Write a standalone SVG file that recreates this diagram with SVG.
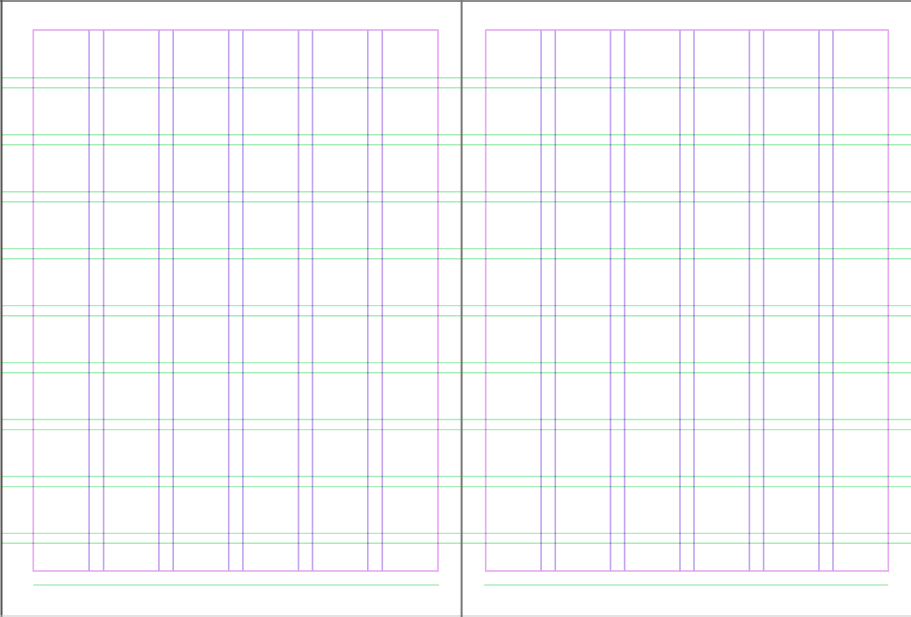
<svg xmlns="http://www.w3.org/2000/svg" width="911" height="617" viewBox="0 0 911 617">
<style>
.margin{fill:none;stroke:#e8a8f2;stroke-width:1.6}
.col{stroke:#c4a2f0;stroke-width:1.6}
.row{stroke:#a6eeb6;stroke-width:1.4;mix-blend-mode:multiply}
.base{stroke:#aeeebc;stroke-width:1.4}
</style>
<rect x="0" y="0" width="911" height="617" fill="#ffffff"/>
<g id="frame">
<line x1="0" y1="1" x2="911" y2="1" stroke="#666" stroke-width="1.6"/>
<line x1="1.5" y1="0" x2="1.5" y2="617" stroke="#555" stroke-width="2"/>
<line x1="0" y1="616" x2="911" y2="616" stroke="#c8c8c8" stroke-width="1.2"/>
</g>
<g id="left-page">
<rect class="margin" x="33.3" y="30" width="404.7" height="541"/>
<line class="col" x1="89.1" y1="30" x2="89.1" y2="571"/>
<line class="col" x1="103.6" y1="30" x2="103.6" y2="571"/>
<line class="col" x1="158.9" y1="30" x2="158.9" y2="571"/>
<line class="col" x1="173.2" y1="30" x2="173.2" y2="571"/>
<line class="col" x1="228.7" y1="30" x2="228.7" y2="571"/>
<line class="col" x1="242.9" y1="30" x2="242.9" y2="571"/>
<line class="col" x1="298.5" y1="30" x2="298.5" y2="571"/>
<line class="col" x1="312.5" y1="30" x2="312.5" y2="571"/>
<line class="col" x1="367.8" y1="30" x2="367.8" y2="571"/>
<line class="col" x1="382.3" y1="30" x2="382.3" y2="571"/>
<line class="base" x1="33.3" y1="585" x2="439" y2="585"/>
</g>
<g id="right-page">
<rect class="margin" x="485.7" y="30" width="402.6" height="541"/>
<line class="col" x1="541.1" y1="30" x2="541.1" y2="571"/>
<line class="col" x1="555.3" y1="30" x2="555.3" y2="571"/>
<line class="col" x1="610.5" y1="30" x2="610.5" y2="571"/>
<line class="col" x1="624.6" y1="30" x2="624.6" y2="571"/>
<line class="col" x1="680" y1="30" x2="680" y2="571"/>
<line class="col" x1="694" y1="30" x2="694" y2="571"/>
<line class="col" x1="749.4" y1="30" x2="749.4" y2="571"/>
<line class="col" x1="763.6" y1="30" x2="763.6" y2="571"/>
<line class="col" x1="819" y1="30" x2="819" y2="571"/>
<line class="col" x1="833" y1="30" x2="833" y2="571"/>
<line class="base" x1="484" y1="585" x2="888.3" y2="585"/>
</g>
<g id="rows">
<line class="row" x1="2" y1="77.8" x2="911" y2="77.8"/>
<line class="row" x1="2" y1="87.8" x2="911" y2="87.8"/>
<line class="row" x1="2" y1="134.7" x2="911" y2="134.7"/>
<line class="row" x1="2" y1="144.8" x2="911" y2="144.8"/>
<line class="row" x1="2" y1="191.7" x2="911" y2="191.7"/>
<line class="row" x1="2" y1="201.8" x2="911" y2="201.8"/>
<line class="row" x1="2" y1="248.6" x2="911" y2="248.6"/>
<line class="row" x1="2" y1="258.7" x2="911" y2="258.7"/>
<line class="row" x1="2" y1="305.6" x2="911" y2="305.6"/>
<line class="row" x1="2" y1="315.7" x2="911" y2="315.7"/>
<line class="row" x1="2" y1="362.6" x2="911" y2="362.6"/>
<line class="row" x1="2" y1="372.7" x2="911" y2="372.7"/>
<line class="row" x1="2" y1="419.5" x2="911" y2="419.5"/>
<line class="row" x1="2" y1="429.6" x2="911" y2="429.6"/>
<line class="row" x1="2" y1="476.5" x2="911" y2="476.5"/>
<line class="row" x1="2" y1="486.6" x2="911" y2="486.6"/>
<line class="row" x1="2" y1="533.4" x2="911" y2="533.4"/>
<line class="row" x1="2" y1="543.2" x2="911" y2="543.2"/>
</g>
<g id="spine">
<line x1="461.6" y1="0" x2="461.6" y2="617" stroke="#777" stroke-width="2"/>
</g>
</svg>
